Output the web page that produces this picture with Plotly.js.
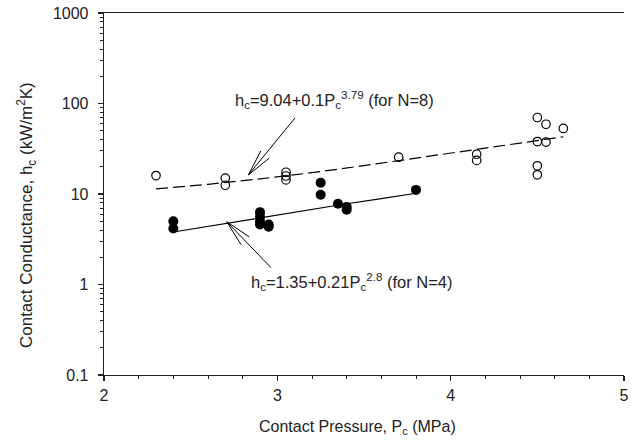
<!DOCTYPE html>
<html>
<head>
<meta charset="utf-8">
<script src="https://cdn.plot.ly/plotly-3.0.1.min.js"></script>
<style>html,body{margin:0;padding:0;background:#fff;}#chart{width:634px;height:446px;}</style>
</head>
<body>
<div id="chart"></div>
<script>
// N=8 measurements (open circles)
const openX = [2.3, 2.7, 2.7, 3.05, 3.05, 3.05, 3.7, 4.15, 4.15, 4.5, 4.55, 4.5, 4.55, 4.5, 4.5, 4.65];
const openY = [16, 15, 12.5, 17.4, 15.8, 14.3, 25.5, 27.5, 23.5, 70, 59, 38, 37.5, 20.5, 16.3, 53];
// N=4 measurements (filled circles)
const filledX = [2.4, 2.4, 2.9, 2.9, 2.9, 2.9, 2.95, 2.95, 3.25, 3.25, 3.35, 3.4, 3.4, 3.8];
const filledY = [5.0, 4.15, 6.3, 5.6, 5.0, 4.6, 4.6, 4.35, 13.3, 9.8, 7.8, 7.2, 6.7, 11.1];
// Fit curves
const fitN8X = [2.3, 2.6, 2.9, 3.2, 3.5, 3.8, 4.1, 4.4, 4.65];
const fitN8Y = [11.4, 12.8, 14.7, 17.2, 20.6, 24.8, 30.0, 36.5, 42.9];
const fitN4X = [2.4, 2.6, 2.8, 3.0, 3.2, 3.4, 3.6, 3.8];
const fitN4Y = [3.8, 4.4, 5.1, 5.9, 6.8, 7.8, 8.9, 10.2];
// Tick labels
const xTicks = [2, 3, 4, 5];
const yTicks = [0.1, 1, 10, 100, 1000];
const yTickText = ['0.1', '1', '10', '100', '1000'];

const FONT = 'Arial, "Liberation Sans", sans-serif';
const INK = '#222';

const traces = [
  {x: fitN8X, y: fitN8Y, mode: 'lines', line: {color: '#000', width: 1.2, dash: '12px,5px'}, hoverinfo: 'skip'},
  {x: fitN4X, y: fitN4Y, mode: 'lines', line: {color: '#000', width: 1.2}, hoverinfo: 'skip'},
  {x: openX, y: openY, mode: 'markers', marker: {symbol: 'circle-open', size: 8.5, color: '#000', line: {width: 1.2, color: '#000'}}},
  {x: filledX, y: filledY, mode: 'markers', marker: {symbol: 'circle', size: 10, color: '#000'}}
];

// Arrow pieces in paper fractions (tip -> end)
function seg(x0, y0, x1, y1) {
  return {type: 'line', xref: 'paper', yref: 'paper', x0: x0, y0: y0, x1: x1, y1: y1,
          line: {color: '#000', width: 1}};
}
const tip1 = [0.2775, 0.5525];
const tip2 = [0.236, 0.4235];

const layout = {
  width: 634, height: 446,
  margin: {l: 104, r: 10, t: 13, b: 71},
  paper_bgcolor: '#fff', plot_bgcolor: '#fff',
  showlegend: false,
  font: {family: FONT, color: INK, size: 16},
  xaxis: {
    range: [2, 5], tickvals: xTicks, ticks: 'outside', ticklen: 5, tickwidth: 1.2, tickcolor: INK,
    showline: true, linecolor: INK, linewidth: 1.3, mirror: true, showgrid: false, zeroline: false,
    tickfont: {size: 16, color: INK},
    minor: {dtick: 0.2, ticks: 'outside', ticklen: 3, tickwidth: 1, tickcolor: INK, showgrid: false}
  },
  yaxis: {
    type: 'log', range: [-1, 3], tickvals: yTicks, ticktext: yTickText,
    ticks: 'outside', ticklen: 5, tickwidth: 1.2, tickcolor: INK, ticklabelstandoff: 6,
    showline: true, linecolor: INK, linewidth: 1.3, showgrid: false, zeroline: false,
    tickfont: {size: 16, color: INK},
    minor: {dtick: 'D1', ticks: 'outside', ticklen: 3, tickwidth: 1, tickcolor: INK, showgrid: false}
  },
  shapes: [
    seg(tip1[0], tip1[1], 0.3673, 0.710),
    seg(tip1[0], tip1[1], 0.3015, 0.6188),
    seg(tip1[0], tip1[1], 0.3179, 0.5994),
    seg(tip2[0], tip2[1], 0.3212, 0.2964),
    seg(tip2[0], tip2[1], 0.2790, 0.3818),
    seg(tip2[0], tip2[1], 0.2635, 0.3602)
  ],
  annotations: [
    {text: 'Contact Pressure, P<sub>c</sub> (MPa)', xref: 'paper', yref: 'paper', x: 0.487, y: -0.146,
     xanchor: 'center', yanchor: 'middle', showarrow: false, font: {size: 16, color: INK}},
    {text: 'Contact Conductance, h<sub>c</sub> (kW/m<sup>2</sup>K)', xref: 'paper', yref: 'paper', x: -0.148, y: 0.442,
     xanchor: 'center', yanchor: 'middle', textangle: -90, showarrow: false, font: {size: 17, color: INK}},
    {text: 'h<sub>c</sub>=9.04+0.1P<sub>c</sub><sup>3.79</sup> (for N=8)', xref: 'paper', yref: 'paper',
     x: 0.248, y: 0.76, xanchor: 'left', yanchor: 'middle', showarrow: false, font: {size: 16.5, color: INK}},
    {text: 'h<sub>c</sub>=1.35+0.21P<sub>c</sub><sup>2.8</sup> (for N=4)', xref: 'paper', yref: 'paper',
     x: 0.279, y: 0.257, xanchor: 'left', yanchor: 'middle', showarrow: false, font: {size: 16.5, color: INK}}
  ]
};

Plotly.newPlot('chart', traces, layout, {staticPlot: true, displayModeBar: false});
</script>
</body>
</html>
